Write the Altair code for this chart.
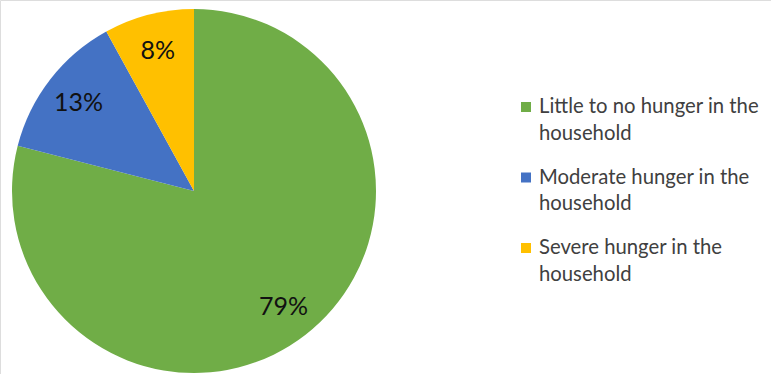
import altair as alt
import pandas as pd

categories = [
    "Little to no hunger in the\nhousehold",
    "Moderate hunger in the\nhousehold",
    "Severe hunger in the\nhousehold",
]
values = [79, 13, 8]
labels = ["79%", "13%", "8%"]
colors = ["#70AD47", "#4472C4", "#FFC000"]

df = pd.DataFrame({
    "cat": categories,
    "value": values,
    "label": labels,
    "idx": list(range(len(categories))),
})

color = alt.Color("cat:N", scale=alt.Scale(domain=categories, range=colors), legend=None)
theta = alt.Theta("value:Q", stack=True)
order = alt.Order("idx:Q")

base = alt.Chart(df)

pie = base.mark_arc(radius=182).encode(
    theta=theta, color=color, order=order,
    x=alt.value(194), y=alt.value(191),
)

pct = base.mark_text(radius=146, font="Lato", fontSize=25, color="#111111",
                     baseline="middle", align="center").encode(
    theta=theta, order=order, text="label:N",
    x=alt.value(194), y=alt.value(192),
)

ypos = alt.Y("cat:N", sort=categories, axis=None,
             scale=alt.Scale(type="point", range=[107, 248], padding=0))

sq = base.mark_square(size=100, opacity=1).encode(
    x=alt.value(526), y=ypos, color=color,
)

leg = base.mark_text(align="left", baseline="alphabetic", dy=6, font="Lato",
                     fontSize=20.3, lineBreak="\n", lineHeight=26.5,
                     color="#404040").encode(
    x=alt.value(539), y=ypos, text="cat:N",
)

chart = alt.layer(pie, pct, sq, leg).properties(
    width=771, height=374, padding=0, autosize="none"
).configure_view(stroke=None).configure(background="white")

chart.save("out.html", embed_options={"renderer": "svg", "actions": False})
